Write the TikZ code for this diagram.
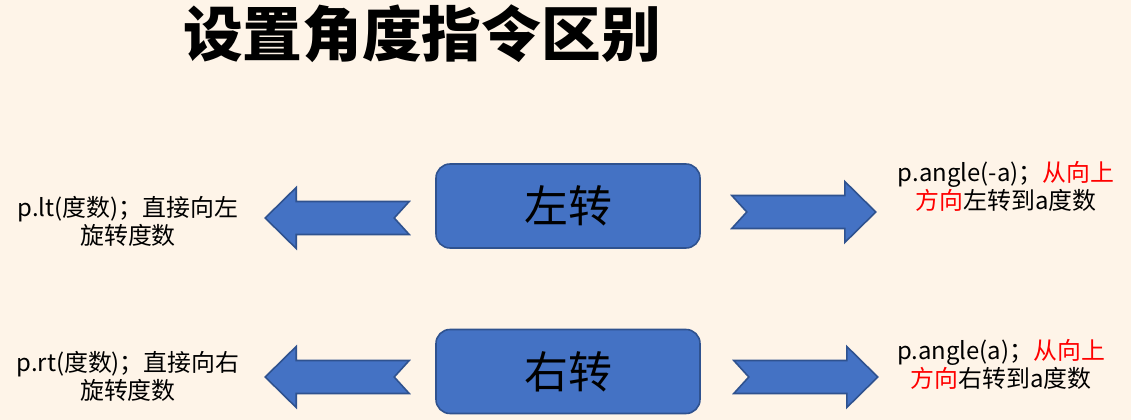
\documentclass[tikz,border=0pt]{standalone}
\usepackage{fontspec}
\usepackage{tikz}
\usetikzlibrary{positioning}
\setmainfont{Noto Sans CJK SC}
\definecolor{paper}{RGB}{254,244,232}
\definecolor{boxblue}{RGB}{68,114,196}
\definecolor{boxedge}{RGB}{47,82,143}
\tikzset{
  turnbox/.style={draw=boxedge, fill=boxblue, line width=0.9pt, rounded corners=0.28cm,
    minimum width=5.28cm, minimum height=1.68cm, font=\fontsize{25}{30}\selectfont},
  note/.style={align=center, font=\fontsize{13.6}{15.9}\selectfont},
  pics/fatarrow/.style={code={
    \draw[draw=boxedge, fill=boxblue, line width=0.9pt]
      (0,0.33) -- (2.26,0.33) -- (2.26,0.61) -- (2.88,0) -- (2.26,-0.61)
      -- (2.26,-0.33) -- (0,-0.33) -- (0.3,0) -- cycle;
  }}
}

\begin{document}
\begin{tikzpicture}
        \fill[paper] (0,0) rectangle (22.62,8.4);
        \useasboundingbox (0,0) rectangle (22.62,8.4);

        % Title
        \node[font=\fontsize{34}{40}\selectfont\bfseries] (title) at (8.44,7.72) {设置角度指令区别};

        % Boxes
        \node[turnbox] (left) at (11.36,4.28) {左转};
        \node[turnbox] (right) at (11.36,0.97) {右转};

        % Arrows
        \pic[xscale=-1] at ([xshift=-0.52cm, yshift=-0.24cm]left.west) {fatarrow};
        \pic at ([xshift=0.62cm, yshift=-0.12cm]left.east) {fatarrow};
        \pic[xscale=-1] at ([xshift=-0.52cm, yshift=-0.11cm]right.west) {fatarrow};
        \pic at ([xshift=0.66cm, yshift=-0.11cm]right.east) {fatarrow};

        % Notes
        \node[note] (lt) at (2.56,3.98) {p.lt(度数)；直接向左\\旋转度数};
        \node[note] (rt) at (2.56,0.88) {p.rt(度数)；直接向右\\旋转度数};
        \node[note] (angleneg) at (20.12,4.68) {p.angle(-a)；\textcolor{red}{从向上}\\\textcolor{red}{方向}左转到a度数};
        \node[note] (anglepos) at (20.02,1.12) {p.angle(a)；\textcolor{red}{从向上}\\\textcolor{red}{方向}右转到a度数};
\end{tikzpicture}
\end{document}
